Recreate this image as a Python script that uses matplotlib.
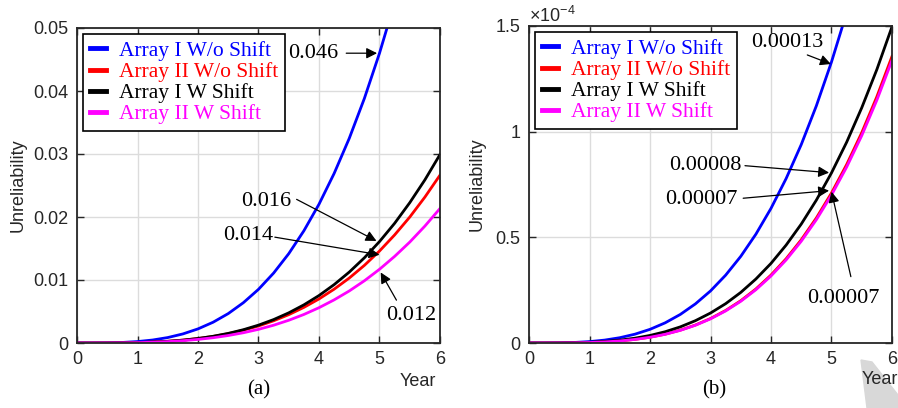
import numpy as np
import matplotlib.pyplot as plt
from matplotlib.patches import Polygon

# years, read at quarter-year steps
years = [0, 0.25, 0.5, 0.75, 1, 1.25, 1.5, 1.75, 2, 2.25, 2.5, 2.75, 3,
         3.25, 3.5, 3.75, 4, 4.25, 4.5, 4.75, 5, 5.25, 5.5, 5.75, 6]

labels = ['Array I W/o Shift', 'Array II W/o Shift', 'Array I W Shift', 'Array II W Shift']
colors = ['#0000ff', '#ff0000', '#000000', '#ff00ff']

# (a) unreliability
a_blue = [0, 0.0000023, 0.000023, 0.000088, 0.000227, 0.000474, 0.000865, 0.00144,
          0.00224, 0.0033, 0.00467, 0.0064, 0.00852, 0.0111, 0.01418, 0.01781,
          0.02203, 0.02691, 0.03248, 0.03882, 0.046, 0.05405, 0.063, 0.073, 0.084]
a_red = [0, 0.00000074, 0.0000073, 0.0000279, 0.0000721, 0.000151, 0.000275, 0.000457,
         0.00071, 0.001047, 0.001482, 0.002031, 0.002704, 0.003523, 0.0045, 0.005652,
         0.006993, 0.008541, 0.010308, 0.012322, 0.0146, 0.017155, 0.019987, 0.023156, 0.026645]
a_black = [0, 0.00000061, 0.0000064, 0.0000254, 0.0000676, 0.000145, 0.000268, 0.000454,
           0.000715, 0.001066, 0.001525, 0.00211, 0.002835, 0.00372, 0.004787, 0.006054,
           0.007535, 0.009266, 0.011254, 0.013524, 0.0161, 0.019, 0.02227, 0.02589, 0.02992]
a_magenta = [0, 0.0000006, 0.0000059, 0.0000223, 0.0000578, 0.000121, 0.00022, 0.000366,
             0.000569, 0.000839, 0.001188, 0.001627, 0.002167, 0.002823, 0.003606, 0.004529,
             0.005604, 0.006845, 0.00826, 0.009875, 0.0117, 0.013748, 0.016017, 0.018556, 0.021353]

# (b) unreliability in units of 1e-4
b_blue = [0, 0.0000677, 0.000665, 0.00254, 0.00657, 0.01371, 0.02502, 0.04163,
          0.06464, 0.09536, 0.135, 0.185, 0.2463, 0.3209, 0.4099, 0.5148,
          0.6371, 0.7781, 0.939, 1.1225, 1.33, 1.5628, 1.8208, 2.1094, 2.4273]
b_red = [0, 0.0000171, 0.0002, 0.000845, 0.00234, 0.00518, 0.00988, 0.01711,
         0.02745, 0.04168, 0.06063, 0.08506, 0.1158, 0.1539, 0.2001, 0.2556,
         0.3216, 0.3987, 0.4885, 0.5919, 0.71, 0.8442, 0.9954, 1.1658, 1.3562]
b_black = [0, 0.0000303, 0.00032, 0.00127, 0.00338, 0.00723, 0.01342, 0.0227,
           0.03573, 0.05329, 0.07623, 0.1055, 0.1418, 0.186, 0.2393, 0.3027,
           0.3767, 0.4633, 0.5627, 0.6762, 0.805, 0.9499, 1.1133, 1.2944, 1.4965]
b_magenta = [0, 0.0000169, 0.000197, 0.000833, 0.00231, 0.0051, 0.00974, 0.01687,
             0.02706, 0.04109, 0.05978, 0.08386, 0.1142, 0.1517, 0.1973, 0.252,
             0.3171, 0.3931, 0.4816, 0.5835, 0.7, 0.8323, 0.9814, 1.1494, 1.3371]

plt.rcParams['font.family'] = ['Liberation Sans', 'DejaVu Sans']
plt.rcParams['mathtext.default'] = 'regular'
serif = 'Liberation Serif'

fig = plt.figure(figsize=(8.98, 4.08), dpi=100)
ax1 = fig.add_axes([77/898, 65/408, 363/898, 315/408])
ax2 = fig.add_axes([529/898, 65/408, 363/898, 317/408])

def style(ax, ymax, yticks, yticklabels):
    ax.set_xlim(0, 6)
    ax.set_ylim(0, ymax)
    ax.set_xticks(range(7))
    ax.set_yticks(yticks)
    ax.set_yticklabels(yticklabels)
    ax.grid(True, color='#dcdcdc', lw=1)
    ax.set_axisbelow(True)
    ax.tick_params(direction='in', length=5, width=1, top=True, right=True,
                   labelsize=13, colors='#262626', pad=6)
    for s in ax.spines.values():
        s.set_linewidth(1.3)
        s.set_color('#262626')
    ax.set_ylabel('Unreliability', fontsize=13, color='#262626')

for ax, series in [(ax1, [a_blue, a_red, a_black, a_magenta]),
                   (ax2, [b_blue, b_red, b_black, b_magenta])]:
    for ys, c, lab in zip(series, colors, labels):
        ax.plot(years, ys, color=c, lw=2.0, label=lab)
    leg = ax.legend(loc='upper left', prop={'family': serif, 'size': 15.5},
                    frameon=True, fancybox=False, edgecolor='k', framealpha=1,
                    handlelength=0.75, handletextpad=0.6, labelspacing=0.05,
                    borderpad=0.3, borderaxespad=0.3)
    leg.get_frame().set_linewidth(1.2)
    for line in leg.get_lines():
        line.set_linewidth(3.5)
    for t, c in zip(leg.get_texts(), colors):
        t.set_color(c)

style(ax1, 0.05, [0, 0.01, 0.02, 0.03, 0.04, 0.05], ['0', '0.01', '0.02', '0.03', '0.04', '0.05'])
style(ax2, 1.5, [0, 0.5, 1, 1.5], ['0', '0.5', '1', '1.5'])
ax1.yaxis.set_label_coords(-0.14, 0.5)
ax2.yaxis.set_label_coords(-0.12, 0.5)
ax2.text(0.0, 1.0, r'$\times10^{-4}$', transform=ax2.transAxes, fontsize=13,
         color='#262626', va='bottom')

arrow = dict(arrowstyle='-|>', color='k', lw=0.9, mutation_scale=16, shrinkA=0, shrinkB=0)
tfont = dict(family=serif, fontsize=16)

# (a) annotations
ax1.text(3.49, 0.046, '0.046', va='center', ha='left', **tfont)
ax1.annotate('', xy=(4.96, 0.046), xytext=(4.45, 0.046), arrowprops=arrow)
ax1.text(2.72, 0.0224, '0.016', va='center', ha='left', **tfont)
ax1.annotate('', xy=(4.95, 0.0162), xytext=(3.63, 0.0228), arrowprops=arrow)
ax1.text(2.42, 0.0170, '0.014', va='center', ha='left', **tfont)
ax1.annotate('', xy=(5.0, 0.014), xytext=(3.27, 0.0168), arrowprops=arrow)
ax1.text(5.11, 0.0044, '0.012', va='center', ha='left', **tfont)
ax1.annotate('', xy=(5.02, 0.0112), xytext=(5.28, 0.0068), arrowprops=arrow)

# (b) annotations
ax2.text(3.67, 1.42, '0.00013', va='center', ha='left', **tfont)
ax2.annotate('', xy=(4.99, 1.32), xytext=(4.6, 1.363), arrowprops=arrow)
ax2.text(2.32, 0.838, '0.00008', va='center', ha='left', **tfont)
ax2.annotate('', xy=(4.96, 0.806), xytext=(3.57, 0.839), arrowprops=arrow)
ax2.text(2.25, 0.677, '0.00007', va='center', ha='left', **tfont)
ax2.annotate('', xy=(4.96, 0.721), xytext=(3.54, 0.685), arrowprops=arrow)
ax2.text(4.59, 0.2115, '0.00007', va='center', ha='left', **tfont)
ax2.annotate('', xy=(5.0, 0.716), xytext=(5.32, 0.314), arrowprops=arrow)

# axis captions
fig.add_artist(Polygon([(861/898, 1-360/408), (872/898, 1-362/408), (898/898, 1-395/408),
                        (898/898, 0), (867/898, 0)], closed=True,
                       transform=fig.transFigure, color='#d8d8d8', zorder=1))
fig.text(418/898, 1-382/408, 'Year', ha='center', va='center', fontsize=13, color='#262626')
fig.text(862/898, 1-380/408, 'Year', ha='left', va='center', fontsize=13, color='#262626')
fig.text(259/898, 1-390/408, '(a)', ha='center', va='center', family=serif, fontsize=15)
fig.text(714/898, 1-390/408, '(b)', ha='center', va='center', family=serif, fontsize=15)

plt.savefig('out.png', dpi=100)
